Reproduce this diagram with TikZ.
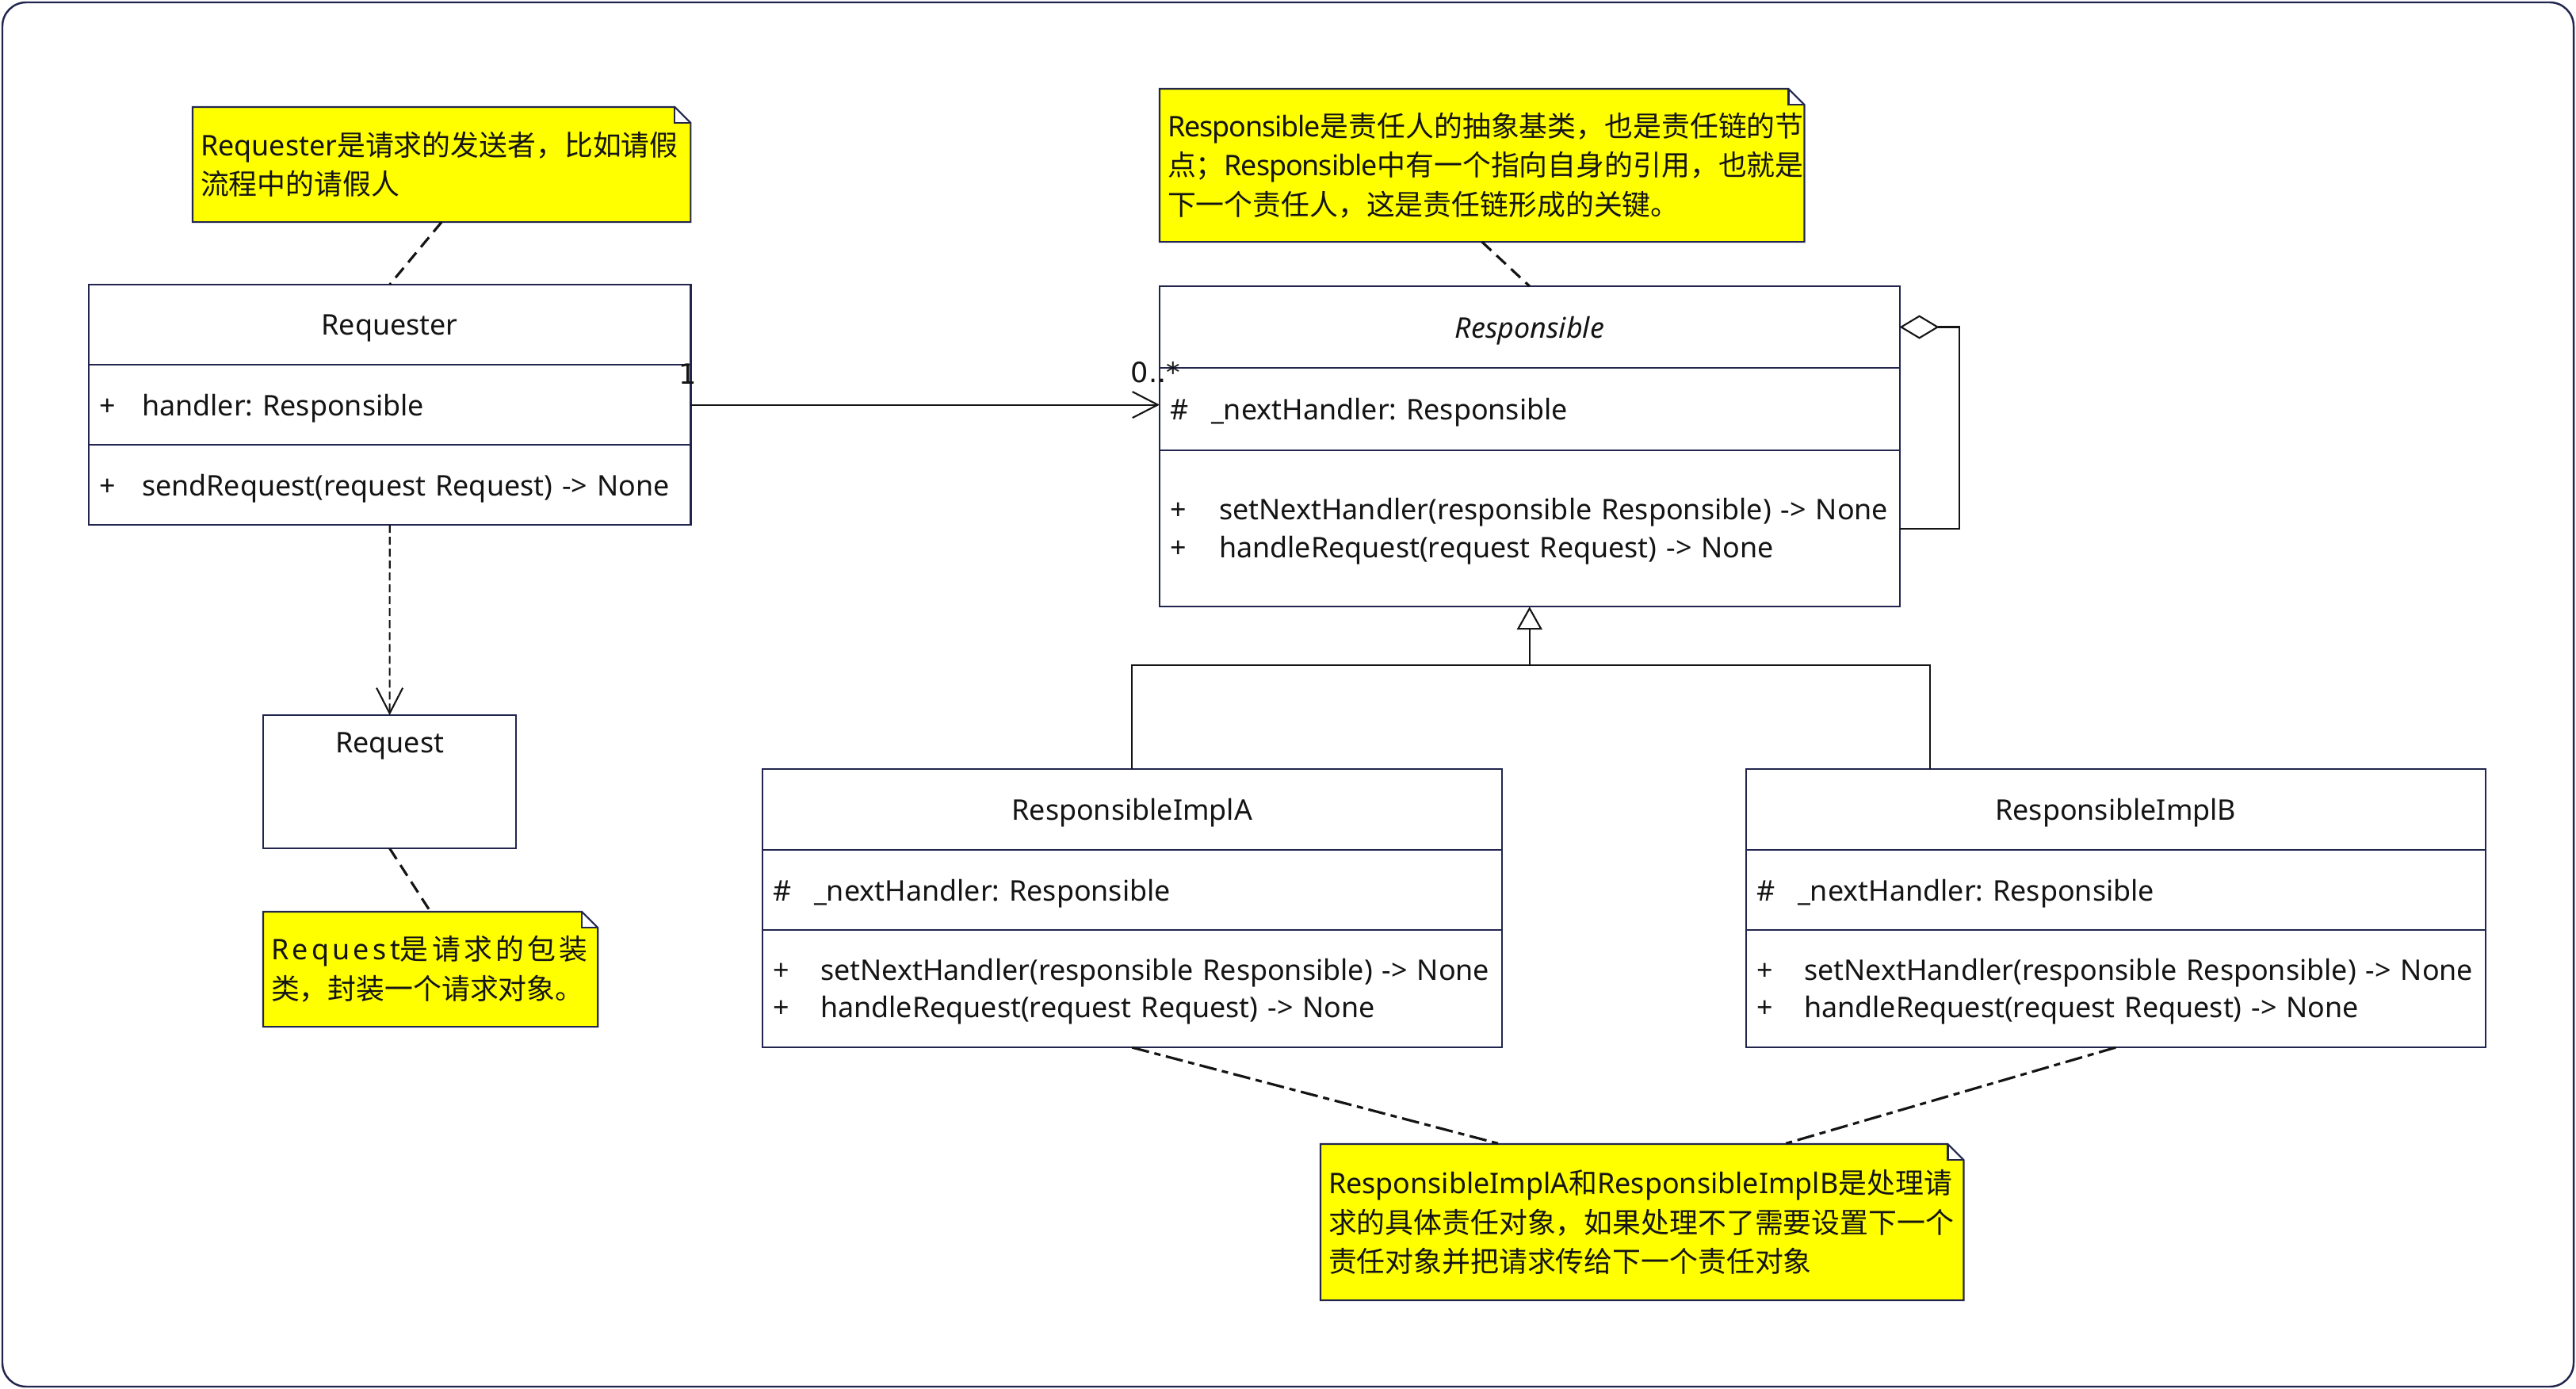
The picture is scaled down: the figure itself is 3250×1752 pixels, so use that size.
\documentclass[tikz,border=0pt]{standalone}
\usepackage{fontspec}
\setmainfont{Noto Sans}
\newfontfamily\cjk{Noto Sans CJK SC}
\newfontfamily\multfont{DejaVu Sans}
\usetikzlibrary{arrows.meta, positioning}
\frenchspacing

\definecolor{umlnavy}{HTML}{22264E}
\definecolor{umlink}{HTML}{141414}
\definecolor{noteyellow}{HTML}{FFFF00}

\newcommand{\vis}[2][0.52cm]{\makebox[#1][l]{#2}}

\begin{document}
\begin{tikzpicture}[x=0.01cm, y=-0.01cm,
    font=\fontsize{10.2pt}{13.6pt}\selectfont, text=umlink,
    compart/.style={draw=umlnavy, line width=0.6pt, anchor=north west,
      inner xsep=0.13cm, inner ysep=0pt, outer sep=0pt, text depth=0pt, align=left},
    twoline/.style={text depth=14.1pt},
    reqbox/.style={compart, text width=7.33cm},
    respbox/.style={compart, text width=9.07cm},
    implbox/.style={compart, text width=9.06cm},
    note/.style={fill=noteyellow, anchor=north west, inner xsep=0.1cm,
      inner ysep=0pt, outer sep=0pt, align=left, font=\fontsize{10.2pt}{14.1pt}\selectfont},
    noteedge/.style={draw=umlnavy, line width=0.6pt},
    link/.style={draw=umlink, line width=0.6pt},
    assoc/.style={link, -{Straight Barb[length=0.32cm, width=0.33cm]}},
    dep/.style={assoc, dash pattern=on 0.1cm off 0.05cm},
    aggr/.style={link, -{Diamond[open, length=0.5cm, width=0.3cm]}},
    gen/.style={link, -{Triangle[open, length=0.29cm, width=0.32cm]}},
    noteline/.style={draw=umlink, line width=0.9pt, dash pattern=on 0.16cm off 0.09cm},
    notelinedd/.style={noteline, dash pattern=on 0.22cm off 0.07cm on 0.08cm off 0.07cm},
    mult/.style={font=\multfont\fontsize{10pt}{12pt}\selectfont, inner sep=0pt}]
  \useasboundingbox (0,0) rectangle (3250,1752);
  \draw[umlnavy, line width=0.7pt, rounded corners=0.3cm] (3,3) rectangle (3247,1749);

  \node[reqbox, minimum height=1.01cm, align=center] (reqName) at (112,359) {Requester};
  \node[reqbox, minimum height=1.01cm] (reqAttr) at (reqName.south west) {\vis[0.54cm]{+}handler: Responsible};
  \node[reqbox, minimum height=1.01cm] (reqMeth) at (reqAttr.south west) {\vis[0.54cm]{+}sendRequest(request Request) -> None};

  \node[respbox, minimum height=1.03cm, align=center] (respName) at (1463,361) {\itshape Responsible};
  \node[respbox, minimum height=1.04cm] (respAttr) at (respName.south west) {\vis{\#}\_nextHandler: Responsible};
  \node[respbox, twoline, minimum height=1.97cm] (respMeth) at (respAttr.south west) {\vis[0.62cm]{+}setNextHandler(responsible Responsible) -> None\\ \vis[0.62cm]{+}handleRequest(request Request) -> None};

  \node[compart, minimum width=3.19cm, minimum height=1.68cm] (reqObj) at (332,902) {};
  \path (reqObj.north) ++(0,39) node (reqObjTitle) {Request};

  \node[implbox, minimum height=1.02cm, align=center] (implAName) at (962,970) {ResponsibleImplA};
  \node[implbox, minimum height=1.01cm] (implAAttr) at (implAName.south west) {\vis{\#}\_nextHandler: Responsible};
  \node[implbox, twoline, minimum height=1.48cm] (implAMeth) at (implAAttr.south west) {\vis[0.6cm]{+}setNextHandler(responsible Responsible) -> None\\ \vis[0.6cm]{+}handleRequest(request Request) -> None};

  \node[implbox, minimum height=1.02cm, align=center] (implBName) at (2203,970) {ResponsibleImplB};
  \node[implbox, minimum height=1.01cm] (implBAttr) at (implBName.south west) {\vis{\#}\_nextHandler: Responsible};
  \node[implbox, twoline, minimum height=1.48cm] (implBMeth) at (implBAttr.south west) {\vis[0.6cm]{+}setNextHandler(responsible Responsible) -> None\\ \vis[0.6cm]{+}handleRequest(request Request) -> None};

  \node[note, minimum height=1.45cm, text width=6.08cm] (reqNote) at (243,135) {Requester{\cjk 是请求的发送者，比如请假}\\{\cjk 流程中的请假人}};
  \node[note, minimum height=1.93cm, text width=7.93cm] (respNote) at (1463,112) {{\addfontfeature{LetterSpace=-3}Responsible}{\cjk 是责任人的抽象基类，也是责任链的节}\\{\cjk 点；}{\addfontfeature{LetterSpace=-3}Responsible}{\cjk 中有一个指向自身的引用，也就是}\\{\cjk 下一个责任人，这是责任链形成的关键。}};
  \node[note, minimum height=1.45cm, text width=4.02cm] (reqObjNote) at (332,1150) {{\addfontfeature{LetterSpace=12}Request}{\cjk\addfontfeature{LetterSpace=12}是请求的包装}\\{\cjk 类，封装一个请求对象。}};
  \node[note, minimum height=1.97cm, text width=7.91cm] (implNote) at (1666,1443) {ResponsibleImplA{\cjk 和}ResponsibleImplB{\cjk 是处理请}\\{\cjk 求的具体责任对象，如果处理不了需要设置下一个}\\{\cjk 责任对象并把请求传给下一个责任对象}};

  \foreach \nt in {reqNote, respNote, reqObjNote, implNote} {
    \fill[white] (\nt.north east) rectangle ++(-20,20);
    \draw[noteedge] (\nt.south west) -- (\nt.north west) -- ([xshift=-0.2cm]\nt.north east)
      -- ([yshift=-0.2cm]\nt.north east) -- (\nt.south east) -- cycle;
    \draw[noteedge] ([xshift=-0.2cm]\nt.north east) |- ([yshift=-0.2cm]\nt.north east);
  }

  \draw[assoc] (reqAttr.east) -- node[mult, pos=0, xshift=-0.04cm, yshift=0.39cm] {1}
    node[mult, pos=1, xshift=-0.05cm, yshift=0.41cm] {0..*} (reqAttr.east -| respAttr.west);
  \draw[dep] (reqMeth.south) -- (reqObj.north);
  \draw[aggr] (respMeth.east) -- ++(75,0) |- (respName.east);
  \path (respMeth.south) ++(0,74) coordinate (genJoin);
  \path (implBName.north west) ++(232,0) coordinate (implBTop);
  \draw[gen] (implAName.north) |- (genJoin) -- (respMeth.south);
  \draw[link] (implBTop) |- (genJoin);

  \draw[noteline] (reqNote.south) -- (reqName.north);
  \draw[noteline] (respNote.south) -- (respName.north);
  \draw[noteline] (reqObj.south) -- (reqObjNote.north);
  \path (implNote.north) ++(-179,0) coordinate (implNoteA) ++(358,0) coordinate (implNoteB);
  \draw[notelinedd] (implAMeth.south) -- (implNoteA);
  \draw[notelinedd] (implBMeth.south) -- (implNoteB);
\end{tikzpicture}
\end{document}
